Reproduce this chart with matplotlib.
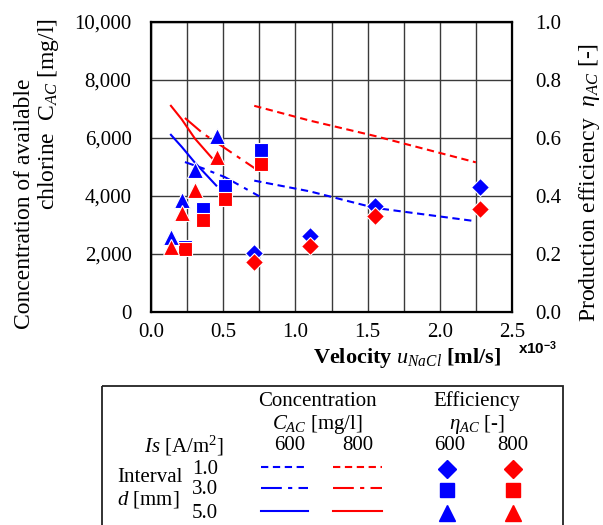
import matplotlib
matplotlib.use('Agg')
import matplotlib.pyplot as plt
import matplotlib.ticker as ticker
from matplotlib.patches import Rectangle
from matplotlib.lines import Line2D

plt.rcParams['font.family'] = 'Liberation Serif'
plt.rcParams['mathtext.fontset'] = 'custom'
plt.rcParams['mathtext.rm'] = 'Liberation Serif'
plt.rcParams['mathtext.it'] = 'Liberation Serif:italic'
plt.rcParams['mathtext.bf'] = 'Liberation Serif:bold'

# ---- data (velocity in x10^-3 ml/s) ----
# concentration lines C_AC [mg/l]
u_d1 = [0.715, 1.10, 1.55, 2.25]
c600_d1 = [4530, 4160, 3590, 3130]
c800_d1 = [7110, 6600, 6070, 5160]

u_d3 = [0.235, 0.362, 0.512, 0.750]
c600_d3 = [5170, 4950, 4650, 3990]
c800_d3 = [6690, 6150, 5650, 4850]

u_d5 = [0.138, 0.212, 0.304, 0.452]
c600_d5 = [6110, 5700, 5150, 4360]
c800_d5 = [7110, 6650, 5980, 5140]

# efficiency markers eta_AC [-]
ue_d1 = [0.715, 1.10, 1.55, 2.276]
e600_d1 = [0.203, 0.261, 0.364, 0.431]
e800_d1 = [0.171, 0.226, 0.330, 0.355]

ue_d3 = [0.235, 0.362, 0.512, 0.759]
e600_d3 = [0.223, 0.355, 0.433, 0.560]
e800_d3 = [0.217, 0.318, 0.391, 0.511]

ue_d5 = [0.138, 0.212, 0.304, 0.454]
e600_d5 = [0.260, 0.387, 0.490, 0.608]
e800_d5 = [0.224, 0.341, 0.422, 0.534]

blue = '#0000ff'
red = '#ff0000'
dashed = (0, (3.5, 2.2))
dashdot = (0, (10, 3, 2, 3))
lw = 1.5

fig = plt.figure(figsize=(6.03, 5.25), dpi=100)
ax = fig.add_axes([151/603, 1-312/525, 361/603, 290/525])

ax.plot(u_d1, c600_d1, color=blue, lw=lw, linestyle=dashed)
ax.plot(u_d1, c800_d1, color=red, lw=lw, linestyle=dashed)
ax.plot(u_d3, c600_d3, color=blue, lw=lw, linestyle=dashdot)
ax.plot(u_d3, c800_d3, color=red, lw=lw, linestyle=dashdot)
ax.plot(u_d5, c600_d5, color=blue, lw=lw)
ax.plot(u_d5, c800_d5, color=red, lw=lw)

ax.set_xlim(0, 2.5)
ax.set_ylim(0, 10000)
ax.xaxis.set_major_locator(ticker.MultipleLocator(0.5))
ax.xaxis.set_minor_locator(ticker.MultipleLocator(0.25))
ax.yaxis.set_major_locator(ticker.MultipleLocator(2000))
ax.xaxis.set_major_formatter(ticker.FormatStrFormatter('%.1f'))
ax.yaxis.set_major_formatter(ticker.FuncFormatter(lambda v, p: '{:,.0f}'.format(v)))
ax.grid(True, which='both', color='#3a3a3a', lw=1.0)
ax.set_axisbelow(True)
ax.tick_params(which='both', length=0, labelsize=15)
ax.tick_params(axis='x', pad=8)
ax.tick_params(axis='y', pad=14)
for s in ax.spines.values():
    s.set_linewidth(1.6)
    s.set_color('black')

ax2 = ax.twinx()
ms = dict(markeredgecolor='white', markeredgewidth=0.8, linestyle='none')
ax2.plot(ue_d1, e600_d1, marker='D', markersize=9, color=blue, **ms)
ax2.plot(ue_d1, e800_d1, marker='D', markersize=9, color=red, **ms)
ax2.plot(ue_d3, e600_d3, marker='s', markersize=10, color=blue, **ms)
ax2.plot(ue_d3, e800_d3, marker='s', markersize=10, color=red, **ms)
ax2.plot(ue_d5, e600_d5, marker='^', markersize=11, color=blue, **ms)
ax2.plot(ue_d5, e800_d5, marker='^', markersize=11, color=red, **ms)
ax2.set_ylim(0, 1)
ax2.yaxis.set_major_locator(ticker.MultipleLocator(0.2))
ax2.yaxis.set_major_formatter(ticker.FormatStrFormatter('%.1f'))
ax2.tick_params(length=0, labelsize=15, pad=17)

# axis labels
fig.text(25/603, 1-204/525, 'Concentration of available', rotation=90,
         ha='center', va='center', fontsize=17)
fig.text(49/603, 1-114/525, r'chlorine  C$_{\mathit{AC}}$ [mg/l]', rotation=90,
         ha='center', va='center', fontsize=17)
fig.text(590/603, 1-182/525, r'Production efficiency  $\eta_{AC}$ [-]', rotation=90,
         ha='center', va='center', fontsize=17)
fig.text(407/603, 1-358/525, r'Velocity $u_{NaCl}$ [ml/s]', ha='center', va='center',
         fontsize=16, fontweight='bold')
fig.text(518/603, 1-348/525, r'x10$^{\mathregular{-3}}$', ha='left', va='center',
         fontsize=11, fontweight='bold', family='Liberation Sans')

# legend table (pixel coordinates)
lax = fig.add_axes([0, 0, 1, 1])
lax.set_xlim(0, 603)
lax.set_ylim(525, 0)
lax.axis('off')
lax.add_patch(Rectangle((102, 386), 461, 160, fill=False, lw=1.3, edgecolor='#222222'))
fs = 15
lax.text(317, 401, 'Concentration', ha='center', va='center', fontsize=fs)
lax.text(317, 425, r'$C_{AC}$ [mg/l]', ha='center', va='center', fontsize=fs)
lax.text(477, 401, 'Efficiency', ha='center', va='center', fontsize=fs)
lax.text(477, 425, r'$\eta_{AC}$ [-]', ha='center', va='center', fontsize=fs)
lax.text(224, 446, r'$Is$ [A/m$^2$]', ha='right', va='center', fontsize=fs)
for xx, t in [(290, '600'), (358, '800'), (450, '600'), (513, '800')]:
    lax.text(xx, 446, t, ha='center', va='center', fontsize=fs)
lax.text(117, 478, 'Interval', ha='left', va='center', fontsize=fs)
lax.text(117, 499, r'$d$ [mm]', ha='left', va='center', fontsize=fs)
rows = [(469, '1.0', dashed, 'D', 9), (490, '3.0', dashdot, 's', 10), (513, '5.0', '-', '^', 11)]
for yy, lab, ls, mk, msz in rows:
    lax.text(205, yy, lab, ha='center', va='center', fontsize=fs)
    lax.add_line(Line2D([261, 308], [yy - 2, yy - 2], color=blue, lw=lw, linestyle=ls))
    lax.add_line(Line2D([333, 382], [yy - 2, yy - 2], color=red, lw=lw, linestyle=ls))
    lax.plot([447], [yy], marker=mk, markersize=msz, color=blue, linestyle='none')
    lax.plot([513], [yy], marker=mk, markersize=msz, color=red, linestyle='none')

fig.savefig('out.png', dpi=100)
